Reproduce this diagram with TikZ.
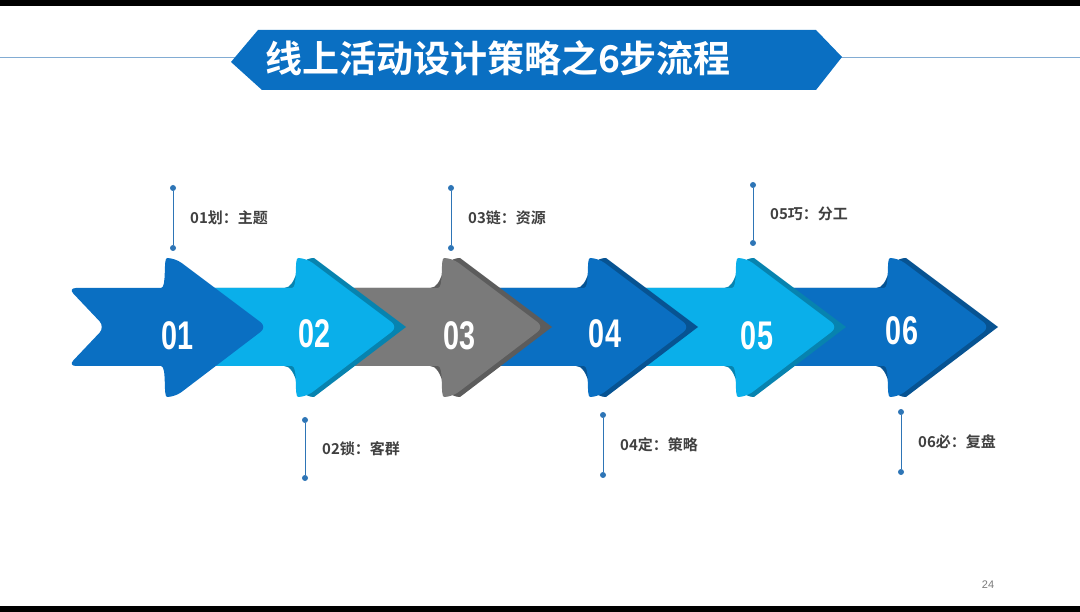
\documentclass[tikz,border=0pt]{standalone}
\usepackage{fontspec}
\newfontfamily\cjk{Noto Sans CJK SC Bold}
\newfontfamily\numf{Liberation Sans}
\definecolor{dblue}{HTML}{0A6FC2}
\definecolor{lblue}{HTML}{0AAFEA}
\definecolor{gry}{HTML}{7A7A7A}
\definecolor{dotc}{HTML}{2E75B6}
\definecolor{lblc}{HTML}{404040}
\begin{document}
\begin{tikzpicture}[x=1pt,y=-1pt,
  num/.style={text=white,font=\numf\bfseries\fontsize{40}{40}\selectfont},
  lbl/.style={anchor=west,text=lblc,font=\cjk\fontsize{15}{15}\selectfont,inner sep=0},
  dotc/.style={circle,fill=dotc,inner sep=0,minimum size=6pt},
  stem/.style={draw=dotc,line width=0.8pt}]
\useasboundingbox (0,0) rectangle (1080,612);
\fill[black] (0,0) rectangle (1080,6);
\fill[black] (0,606) rectangle (1080,612);
% title
\draw[draw=dotc!60,line width=0.8pt] (0,57) -- (1080,57);
\fill[dblue] (231,62) -- (258,30) -- (816,30) -- (842,57) -- (816,90) -- (262,90) -- cycle;
\node[text=white,font=\cjk\fontsize{37}{37}\selectfont,inner sep=0] (title) at (498,58) {线上活动设计策略之6步流程};
% arrows: args L, H, color
\newcommand{\myarrow}[3]{%
  \fill[#3!75!black] (#1,288) -- (#2-22,288) .. controls (#2-8,288) and (#2-12,258) .. (#2+8,258)
     -- (#2+100,327) -- (#2+8,397) .. controls (#2-12,397) and (#2-8,366) .. (#2-22,366) -- (#1,366) -- cycle;
  \fill[#3,rounded corners=8pt] (#1,288) -- (#2-22,288) .. controls (#2-8,288) and (#2-12,258) .. (#2,258)
     -- (#2+92,327) -- (#2,397) .. controls (#2-12,397) and (#2-8,366) .. (#2-22,366) -- (#1,366) -- cycle;}
\myarrow{740}{898}{dblue}
\myarrow{592}{746}{lblue}
\myarrow{446}{598}{dblue}
\myarrow{300}{452}{gry}
\myarrow{170}{306}{lblue}
\fill[dblue,rounded corners=8pt] (68,288) -- (153,288) .. controls (167,288) and (163,258) .. (175,258)
     -- (267,327) -- (175,397) .. controls (163,397) and (167,366) .. (153,366) -- (68,366) -- (105,327) -- cycle;
\node[num] (n1) at (178,336) {\scalebox{0.72}[1]{01}};
\node[num] (n2) at (315,334) {\scalebox{0.72}[1]{02}};
\node[num] (n3) at (460,336) {\scalebox{0.72}[1]{03}};
\node[num] (n4) at (605,334) {\scalebox{0.72}[1]{04}};
\node[num] (n5) at (757,336) {\scalebox{0.72}[1]{05}};
\node[num] (n6) at (902,331) {\scalebox{0.72}[1]{06}};
% labels
\newcommand{\callout}[5]{%
  \node[dotc] (#5a) at (#1,#2) {}; \node[dotc] (#5b) at (#1,#3) {};
  \draw[stem] (#5a) -- (#5b);
  \node[lbl] (#5t) at (#1+17,{(#2+#3)/2}) {#4};}
\callout{173}{188}{248}{01划：主题}{c1}
\callout{451}{188}{248}{03链：资源}{c3}
\callout{753}{185}{243}{05巧：分工}{c5}
\callout{305}{420}{478}{02锁：客群}{c2}
\callout{603}{415}{475}{04定：策略}{c4}
\callout{901}{412}{472}{06必：复盘}{c6}
\node[text=gry,font=\numf\fontsize{11}{11}\selectfont] (pg) at (988,585) {24};
\end{tikzpicture}
\end{document}
